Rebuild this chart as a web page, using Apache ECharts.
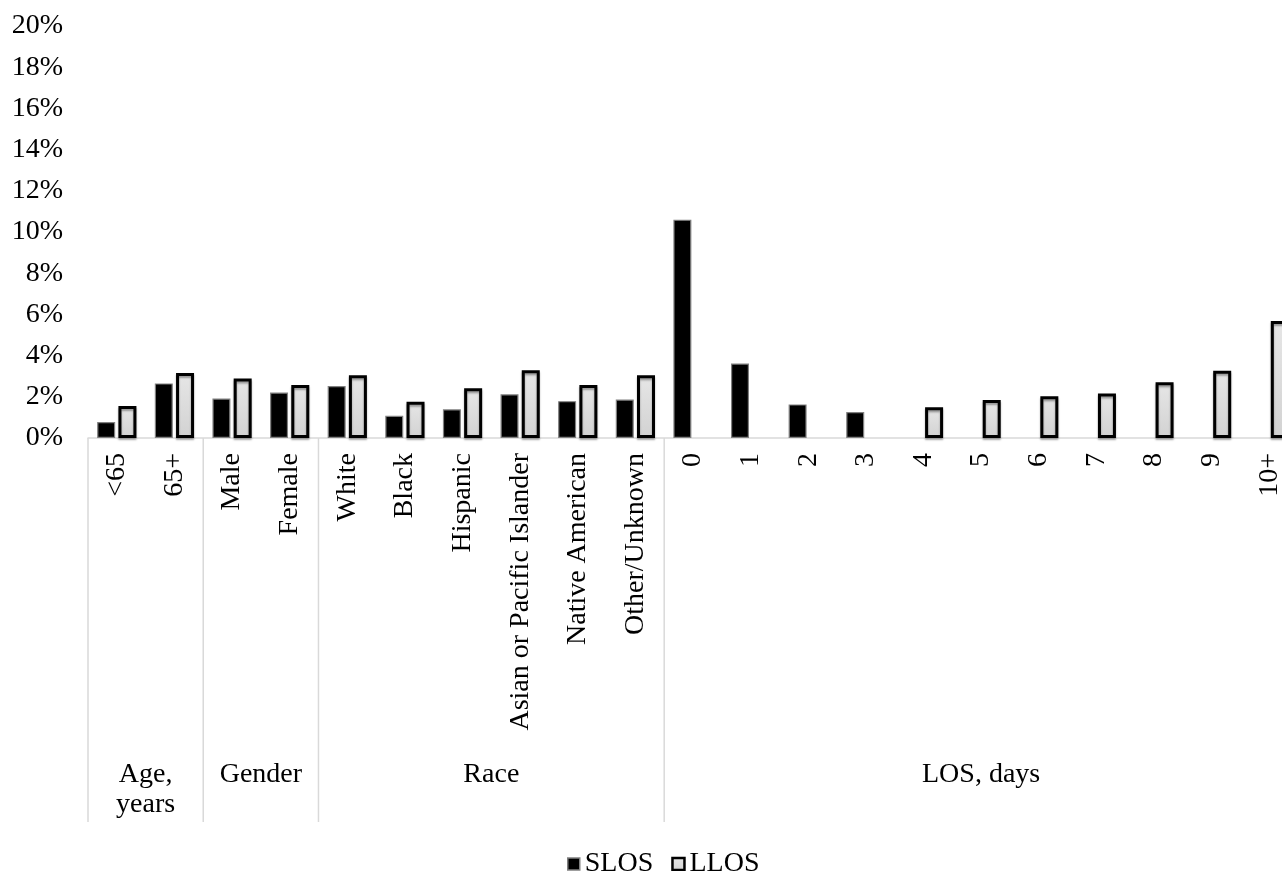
<!DOCTYPE html>
<html>
<head>
<meta charset="utf-8">
<script src="https://cdn.jsdelivr.net/npm/echarts@6/dist/echarts.min.js"></script>
<style>
html,body{margin:0;padding:0;background:#fff;}
#main{width:1282px;height:871px;}
</style>
</head>
<body>
<div id="main"></div>
<script>
var categories = ['<65','65+','Male','Female','White','Black','Hispanic','Asian or Pacific Islander','Native American','Other/Unknown','0','1','2','3','4','5','6','7','8','9','10+'];
var slos = [0.78, 2.65, 1.92, 2.21, 2.52, 1.08, 1.39, 2.12, 1.79, 1.87, 10.6, 3.62, 1.63, 1.26, null, null, null, null, null, null, null];
var llos = [1.55, 3.16, 2.89, 2.57, 3.05, 1.76, 2.41, 3.29, 2.57, 3.05, null, null, null, null, 1.49, 1.84, 2.03, 2.16, 2.71, 3.26, 5.68];
var groupNames = ['Age,\nyears', 'Gender', 'Race', 'LOS, days'];
var groupSizes = [2, 2, 6, 11];
var yTicks = {min: 0, max: 20, interval: 2};

var FONT = '"Liberation Serif", "Times New Roman", serif';
var FS = 28;
var chart = echarts.init(document.getElementById('main'));
var option = {
  animation: false,
  backgroundColor: '#fff',
  textStyle: {fontFamily: FONT},
  grid: {left: 88, top: 26, width: 1210, height: 412, outerBoundsMode: 'none', containLabel: false},
  legend: {
    left: 562, top: 845,
    icon: 'rect',
    itemWidth: 12, itemHeight: 12, itemGap: 18,
    textStyle: {fontFamily: FONT, fontSize: FS, color: '#000'},
    data: [
      {name: 'SLOS', itemStyle: {borderWidth: 1.5, borderColor: '#808080'}},
      {name: 'LLOS', itemStyle: {borderWidth: 2.5, borderColor: '#000'}}
    ]
  },
  xAxis: {
    type: 'category',
    data: categories,
    axisLine: {show: true, lineStyle: {color: '#d9d9d9', width: 1.5}},
    axisTick: {show: false},
    axisLabel: {interval: 0, rotate: 90, margin: 15, fontFamily: FONT, fontSize: FS, color: '#000'}
  },
  yAxis: {
    type: 'value',
    min: yTicks.min, max: yTicks.max, interval: yTicks.interval,
    splitLine: {show: false},
    axisLine: {show: false},
    axisTick: {show: false},
    axisLabel: {formatter: '{value}%', margin: 25, fontFamily: FONT, fontSize: FS, color: '#000'}
  },
  series: [
    {
      name: 'SLOS', type: 'bar', data: slos,
      barWidth: 18, barGap: '18%',
      itemStyle: {color: '#000', borderColor: '#808080', borderWidth: 1.2}
    },
    {
      name: 'LLOS', type: 'bar', data: llos,
      barWidth: 18, barGap: '18%',
      itemStyle: {
        color: new echarts.graphic.LinearGradient(0, 0, 0, 1, [
          {offset: 0, color: '#e6e6e6'}, {offset: 1, color: '#d2d2d2'}
        ]),
        borderColor: '#000', borderWidth: 3,
        shadowColor: 'rgba(0,0,0,0.35)', shadowBlur: 2, shadowOffsetY: 2
      }
    }
  ]
};
chart.setOption(option);

// group separators and group labels computed from the axis scale
var c0 = chart.convertToPixel({xAxisIndex: 0}, categories[0]);
var c1 = chart.convertToPixel({xAxisIndex: 0}, categories[1]);
var band = c1 - c0;
var y0 = chart.convertToPixel({yAxisIndex: 0}, 0);
var elems = [];
var idx = 0;
for (var g = 0; g < groupSizes.length; g++) {
  var left = chart.convertToPixel({xAxisIndex: 0}, categories[idx]) - band / 2;
  var right = chart.convertToPixel({xAxisIndex: 0}, categories[idx + groupSizes[g] - 1]) + band / 2;
  elems.push({
    type: 'line', silent: true,
    shape: {x1: left, y1: y0, x2: left, y2: y0 + 384},
    style: {stroke: '#d9d9d9', lineWidth: 1.5}
  });
  elems.push({
    type: 'text', silent: true,
    x: (left + right) / 2, y: y0 + 322,
    style: {text: groupNames[g], fontFamily: FONT, fontSize: FS, fill: '#000',
            align: 'center', verticalAlign: 'top', lineHeight: 30}
  });
  idx += groupSizes[g];
}
chart.setOption({graphic: elems});
</script>
</body>
</html>
